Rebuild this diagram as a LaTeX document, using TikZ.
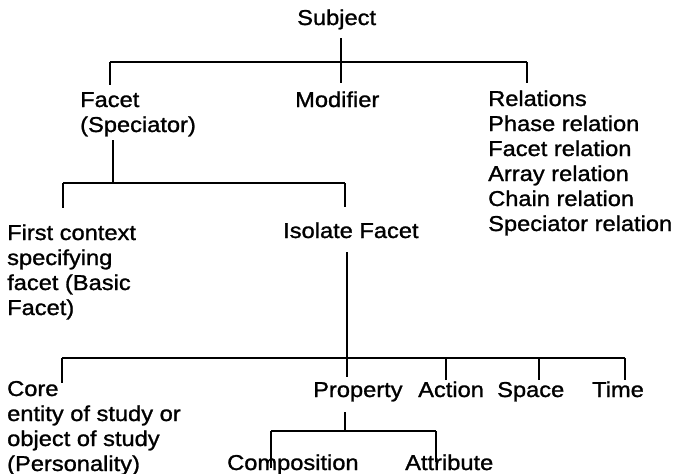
\documentclass[tikz,border=0pt]{standalone}
\usepackage{fontspec}
\setmainfont{Liberation Sans}[FakeStretch=1.1,FakeBold=1.2]
\begin{document}
\begin{tikzpicture}[x=1pt,y=-1pt,
  lbl/.style={anchor=base west,inner sep=0pt,align=left,font=\fontsize{21.5}{25}\selectfont},
  conn/.style={line width=1.6pt,black},
  barline/.style={line width=2pt,black}]
\useasboundingbox[fill=white] (0,0) rectangle (675,474);
% texts (multi-line nodes are anchored at the baseline of their last line)
\node[lbl] (subject) at (297,25) {Subject};
\node[lbl] (facet) at (80,132) {Facet\\(Speciator)};
\node[lbl] (modifier) at (295,107) {Modifier};
\node[lbl] (relations) at (488,231) {Relations\\Phase relation\\Facet relation\\Array relation\\Chain relation\\Speciator relation};
\node[lbl] (first) at (7,315) {First context\\specifying\\facet (Basic\\Facet)};
\node[lbl] (isolate) at (283,238) {Isolate Facet};
\node[lbl] (core) at (7,471) {Core\\entity of study or\\object of study\\(Personality)};
\node[lbl] (property) at (313,397) {Property};
\node[lbl] (action) at (418,397) {Action};
\node[lbl] (space) at (497,397) {Space};
\node[lbl] (time) at (592,397) {Time};
\node[lbl] (composition) at (227,470) {Composition};
\node[lbl] (attribute) at (405,470) {Attribute};
% level 1
\coordinate (s0) at (341,38);
\coordinate (b1m) at (341,62);
\coordinate (b1l) at (110,62);
\coordinate (b1r) at (527,62);
\coordinate (d1l) at (110,85);
\coordinate (d1m) at (341,83);
\coordinate (d1r) at (527,83);
\draw[conn] (s0) -- (b1m);
\draw[barline] (b1l) -- (b1r);
\draw[conn] (b1l) -- (d1l);
\draw[conn] (b1m) -- (d1m);
\draw[conn] (b1r) -- (d1r);
% level 2
\coordinate (s2) at (113,140);
\coordinate (b2m) at (113,183);
\coordinate (b2l) at (63,183);
\coordinate (b2r) at (345,183);
\coordinate (d2l) at (63,208);
\coordinate (d2r) at (345,207);
\draw[conn] (s2) -- (b2m);
\draw[barline] (b2l) -- (b2r);
\draw[conn] (b2l) -- (d2l);
\draw[conn] (b2r) -- (d2r);
% level 3
\coordinate (s3) at (347,252);
\coordinate (b3m) at (347,358);
\coordinate (b3l) at (62,358);
\coordinate (b3r) at (625,358);
\coordinate (b3a) at (446,358);
\coordinate (b3s) at (539,358);
\coordinate (d3c) at (62,383);
\coordinate (d3p) at (347,377);
\coordinate (d3a) at (446,380);
\coordinate (d3s) at (539,380);
\coordinate (d3t) at (625,380);
\draw[conn] (s3) -- (b3m);
\draw[barline] (b3l) -- (b3r);
\draw[conn] (b3l) -- (d3c);
\draw[conn] (b3m) -- (d3p);
\draw[conn] (b3a) -- (d3a);
\draw[conn] (b3s) -- (d3s);
\draw[conn] (b3r) -- (d3t);
% level 4
\coordinate (s4) at (345,412);
\coordinate (b4m) at (345,431);
\coordinate (b4l) at (271,431);
\coordinate (b4r) at (436,431);
\coordinate (d4l) at (271,468);
\coordinate (d4r) at (436,462);
\draw[conn] (s4) -- (b4m);
\draw[barline] (b4l) -- (b4r);
\draw[conn] (b4l) -- (d4l);
\draw[conn] (b4r) -- (d4r);
\end{tikzpicture}
\end{document}
